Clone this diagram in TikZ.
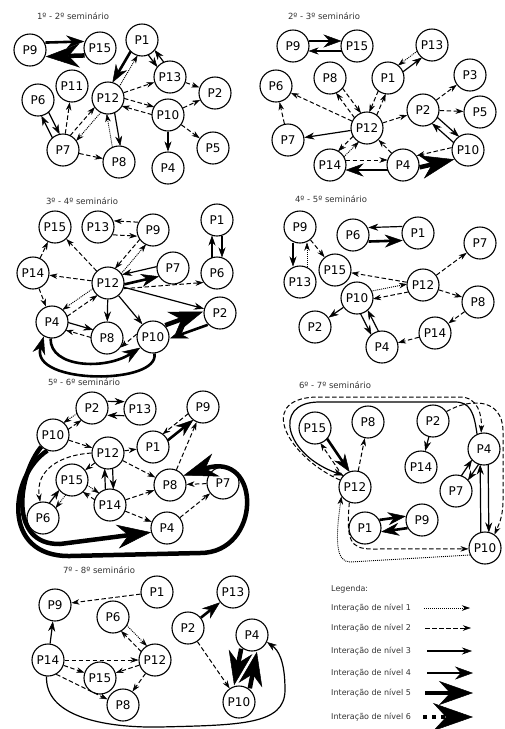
\documentclass[tikz,border=0pt]{standalone}
\usepackage{fontspec}
\setmainfont{DejaVu Sans}
\usetikzlibrary{arrows.meta,calc}

\begin{document}
\begin{tikzpicture}[x=1pt, y=-1pt,
    pn/.style={circle, draw, line width=1.1pt, minimum size=32pt, inner sep=0pt, font=\fontsize{12}{14}\selectfont},
    tit/.style={font=\fontsize{8.5}{10}\selectfont, text=black!80},
    leg/.style={anchor=west, inner sep=0pt, font=\fontsize{8}{10}\selectfont, text=black!80},
    n1/.style={line width=0.9pt, dash pattern=on 1pt off 1pt, -{Stealth[length=8pt,width=5.5pt,line width=0.5pt]}},
    n2/.style={line width=1pt, dash pattern=on 4.5pt off 2.5pt, -{Stealth[length=8pt,width=5.5pt,line width=0.5pt]}},
    n3/.style={line width=1.2pt, -{Stealth[length=10pt,width=7pt,line width=0.5pt]}},
    n4/.style={line width=2.6pt, -{Stealth[length=18pt,width=13pt,line width=0.5pt]}},
    n5/.style={line width=4.5pt, -{Stealth[length=34pt,width=24pt,line width=0.5pt]}},
    n6/.style={line width=4.5pt, dash pattern=on 4pt off 5pt, -{Stealth[length=40pt,width=28pt,line width=0.5pt]}},
    twin/.style={to path={($(\tikztostart)!#1!90:(\tikztotarget)$) -- ($(\tikztotarget)!#1!-90:(\tikztostart)$)}, shorten <=15.5pt, shorten >=15.5pt}]
    \useasboundingbox (0,0) rectangle (505,729);

    % 1 - 2
    \node[tit] (t1) at (73,16) {1º - 2º seminário};
    \node[pn] (a9) at (30,50) {P9};
    \node[pn] (a15) at (100,48) {P15};
    \node[pn] (a1) at (142,40) {P1};
    \node[pn] (a13) at (170,77) {P13};
    \node[pn] (a2) at (215,93) {P2};
    \node[pn] (a11) at (72,86) {P11};
    \node[pn] (a6) at (38,100) {P6};
    \node[pn] (a12) at (108,98) {P12};
    \node[pn] (a10) at (168,115) {P10};
    \node[pn] (a7) at (63,150) {P7};
    \node[pn] (a8) at (119,162) {P8};
    \node[pn] (a4) at (168,168) {P4};
    \node[pn] (a5) at (213,148) {P5};
    \draw[n4, twin=7pt] (a9) to (a15);
    \draw[n5, twin=7pt] (a15) to (a9);
    \draw[n4, twin=-4pt] (a1) to (a12);
    \draw[n1, twin=-4pt] (a12) to (a1);
    \draw[n3, twin=-4pt] (a1) to (a13);
    \draw[n3, twin=-4pt] (a13) to (a1);
    \draw[n2, twin=4pt] (a12) to (a10);
    \draw[n2, twin=4pt] (a10) to (a12);
    \draw[n3, twin=4pt] (a12) to (a8);
    \draw[n1, twin=4pt] (a8) to (a12);
    \draw[n1, twin=4pt] (a12) to (a7);
    \draw[n2, twin=4pt] (a7) to (a12);
    \draw[n3, twin=4pt] (a7) to (a6);
    \draw[n3, twin=4pt] (a6) to (a7);
    \draw[n2] (a13) -- (a2);
    \draw[n2] (a12) -- (a13);
    \draw[n2] (a10) -- (a2);
    \draw[n2] (a10) -- (a5);
    \draw[n3] (a10) -- (a4);
    \draw[n2] (a7) -- (a11);
    \draw[n2] (a7) -- (a8);

    % 2 - 3
    \node[tit] (t2) at (324,16) {2º - 3º seminário};
    \node[pn] (b9) at (293,46) {P9};
    \node[pn] (b15) at (357,46) {P15};
    \node[pn] (b13) at (432,45) {P13};
    \node[pn] (b1) at (388,78) {P1};
    \node[pn] (b8) at (330,78) {P8};
    \node[pn] (b6) at (276,86) {P6};
    \node[pn] (b3) at (470,75) {P3};
    \node[pn] (b2) at (423,110) {P2};
    \node[pn] (b5) at (480,112) {P5};
    \node[pn] (b12) at (367,128) {P12};
    \node[pn] (b7) at (288,140) {P7};
    \node[pn] (b10) at (468,150) {P10};
    \node[pn] (b14) at (330,165) {P14};
    \node[pn] (b4) at (403,165) {P4};
    \draw[n4, twin=5pt] (b9) to (b15);
    \draw[n3, twin=5pt] (b15) to (b9);
    \draw[n3, twin=-4pt] (b1) to (b13);
    \draw[n1, twin=-4pt] (b13) to (b1);
    \draw[n2, twin=-4pt] (b12) to (b1);
    \draw[n2, twin=-4pt] (b1) to (b12);
    \draw[n2, twin=4pt] (b8) to (b12);
    \draw[n2, twin=4pt] (b12) to (b8);
    \draw[n3, twin=4pt] (b2) to (b10);
    \draw[n3, twin=4pt] (b10) to (b2);
    \draw[n2, twin=-4pt] (b12) to (b14);
    \draw[n1, twin=-4pt] (b14) to (b12);
    \draw[n2, twin=5pt] (b14) to (b4);
    \draw[n4, twin=5pt] (b4) to (b14);
    \draw[n5, twin=-6pt] (b4) to (b10);
    \draw[n2, twin=-6pt] (b10) to (b4);
    \draw[n2] (b12) -- (b6);
    \draw[n2] (b7) -- (b6);
    \draw[n3] (b12) -- (b7);
    \draw[n2] (b12) -- (b2);
    \draw[n2] (b2) -- (b3);
    \draw[n2] (b2) -- (b5);
    \draw[n2] (b4) -- (b12);

    % 3 - 4
    \node[tit] (t3) at (82,201) {3º - 4º seminário};
    \node[pn] (c15) at (55,227) {P15};
    \node[pn] (c13) at (98,227) {P13};
    \node[pn] (c9) at (153,230) {P9};
    \node[pn] (c1) at (217,220) {P1};
    \node[pn] (c14) at (33,273) {P14};
    \node[pn] (c12) at (108,283) {P12};
    \node[pn] (c7) at (173,268) {P7};
    \node[pn] (c6) at (217,273) {P6};
    \node[pn] (c2) at (220,313) {P2};
    \node[pn] (c4) at (52,322) {P4};
    \node[pn] (c8) at (107,338) {P8};
    \node[pn] (c10) at (153,337) {P10};
    \draw[n2, twin=-7pt] (c9) to (c13);
    \draw[n2, twin=-7pt] (c13) to (c9);
    \draw[n2, twin=-4pt] (c9) to (c12);
    \draw[n1, twin=-4pt] (c12) to (c9);
    \draw[n3, twin=-5pt] (c7) to (c12);
    \draw[n4, twin=-5pt] (c12) to (c7);
    \draw[n3, twin=5pt] (c1) to (c6);
    \draw[n3, twin=5pt] (c6) to (c1);
    \draw[n1, twin=-4pt] (c12) to (c4);
    \draw[n2, twin=-4pt] (c4) to (c12);
    \draw[n3, twin=4pt] (c4) to (c8);
    \draw[n2, twin=4pt] (c8) to (c4);
    \draw[n5, twin=7pt] (c10) to (c2);
    \draw[n4, twin=7pt] (c2) to (c10);
    \draw[n2] (c12) -- (c15);
    \draw[n2] (c14) -- (c15);
    \draw[n2] (c12) -- (c14);
    \draw[n2] (c14) -- (c4);
    \draw[n2] (c12.-20) -- (c6.215);
    \draw[n3] (c12) -- (c2);
    \draw[n3] (c12) -- (c8);
    \draw[n3] (c12) -- (c10);
    \draw[n2] (c10.170) -- (c8.-35);
    \draw[n4] (c4.265) .. controls (50,368) and (105,370) .. (c10.220);
    \draw[n4] (c10.275) .. controls (160,385) and (30,385) .. (c4.240);

    % 4 - 5
    \node[tit] (t4) at (331,199) {4º - 5º seminário};
    \node[pn] (d9) at (300,227) {P9};
    \node[pn] (d6) at (353,235) {P6};
    \node[pn] (d1) at (418,233) {P1};
    \node[pn] (d7) at (480,243) {P7};
    \node[pn] (d13) at (300,282) {P13};
    \node[pn] (d15) at (335,270) {P15};
    \node[pn] (d12) at (423,285) {P12};
    \node[pn] (d10) at (357,298) {P10};
    \node[pn] (d8) at (478,302) {P8};
    \node[pn] (d2) at (315,327) {P2};
    \node[pn] (d14) at (435,333) {P14};
    \node[pn] (d4) at (382,347) {P4};
    \draw[n3, twin=-7pt] (d1) to (d6);
    \draw[n4, twin=-7pt] (d6) to (d1);
    \draw[n3, twin=-7pt] (d9) to (d13);
    \draw[n1, twin=-7pt] (d13) to (d9);
    \draw[n1, twin=4pt] (d10) to (d12);
    \draw[n2, twin=4pt] (d12) to (d10);
    \draw[n3, twin=-4pt] (d10) to (d4);
    \draw[n3, twin=-4pt] (d4) to (d10);
    \draw[n2] (d9) -- (d15);
    \draw[n2] (d12) -- (d15);
    \draw[n2] (d12) -- (d7);
    \draw[n2] (d12) -- (d8);
    \draw[n2] (d8) -- (d14);
    \draw[n2] (d14) -- (d4);
    \draw[n3] (d10) -- (d2);

    % 5 - 6
    \node[tit] (t5) at (84,382) {5º - 6º seminário};
    \node[pn] (e2) at (92,408) {P2};
    \node[pn] (e13) at (140,409) {P13};
    \node[pn] (e9) at (203,407) {P9};
    \node[pn] (e10) at (53,435) {P10};
    \node[pn] (e12) at (108,453) {P12};
    \node[pn] (e1) at (153,447) {P1};
    \node[pn] (e15) at (72,480) {P15};
    \node[pn] (e8) at (170,485) {P8};
    \node[pn] (e7) at (223,483) {P7};
    \node[pn] (e14) at (110,505) {P14};
    \node[pn] (e6) at (43,518) {P6};
    \node[pn] (e4) at (167,528) {P4};
    \draw[n3, twin=7pt] (e2) to (e13);
    \draw[n3, twin=7pt] (e13) to (e2);
    \draw[n1, twin=-4pt] (e2) to (e10);
    \draw[n2, twin=-4pt] (e10) to (e2);
    \draw[n2, twin=-4pt] (e9) to (e1);
    \draw[n4, twin=-4pt] (e1) to (e9);
    \draw[n3, twin=4pt] (e12) to (e14);
    \draw[n3, twin=4pt] (e14) to (e12);
    \draw[n1, twin=4pt] (e15) to (e14);
    \draw[n2, twin=4pt] (e14) to (e15);
    \draw[n3, twin=4pt] (e6) to (e15);
    \draw[n1, twin=4pt] (e15) to (e6);
    \draw[n2] (e10) -- (e12);
    \draw[n2] (e12) -- (e1);
    \draw[n2] (e8) -- (e9);
    \draw[n2] (e12) -- (e8);
    \draw[n2] (e14) -- (e8);
    \draw[n2] (e14) -- (e4);
    \draw[n2] (e7) -- (e8);
    \draw[n2] (e4) -- (e7);
    \draw[n2] (e12) -- (e15);
    \draw[n2] (e12.west) .. controls (60,455) and (35,470) .. (e6.100);
    \draw[n5] (e10.225) .. controls (18,475) and (8,545) .. (60,544) -- (e4.195);
    \draw[n5] (e10.250) .. controls (10,475) and (0,557) .. (70,556) -- (200,553) .. controls (262,553) and (262,450) .. (e8.35);

    % 6 - 7
    \node[tit] (t6) at (335,385) {6º - 7º seminário};
    \node[pn] (f15) at (315,428) {P15};
    \node[pn] (f8) at (368,422) {P8};
    \node[pn] (f2) at (433,421) {P2};
    \node[pn] (f4) at (484,449) {P4};
    \node[pn] (f14) at (421,467) {P14};
    \node[pn] (f12) at (355,487) {P12};
    \node[pn] (f7) at (456,491) {P7};
    \node[pn] (f9) at (422,520) {P9};
    \node[pn] (f1) at (365,528) {P1};
    \node[pn] (f10) at (485,548) {P10};
    \draw[n4, twin=4pt] (f15) to (f12);
    \draw[n2, twin=4pt] (f12) to (f15);
    \draw[n3, twin=4pt] (f7) to (f4);
    \draw[n3, twin=4pt] (f4) to (f7);
    \draw[n3, twin=4pt] (f4) to (f10);
    \draw[n3, twin=4pt] (f10) to (f4);
    \draw[n4, twin=6pt] (f1) to (f9);
    \draw[n4, twin=6pt] (f9) to (f1);
    \draw[n2] (f12) -- (f8);
    \draw[n3] (f2) -- (f14);
    \draw[n2] (f12.155) .. controls (290,458) and (255,400) .. (315,397) -- (460,397) .. controls (478,397) and (482,415) .. (f4.100);
    \draw[n3] (f4.115) .. controls (474,412) and (470,402) .. (455,402) -- (318,402) .. controls (272,403) and (285,455) .. (f12.135);
    \draw[n2] (f2.35) .. controls (470,398) and (502,398) .. (503,430) -- (503,500) .. controls (503,515) and (500,522) .. (f10.55);
    \draw[n2] (f12.250) .. controls (346,540) and (350,549) .. (372,549) -- (f10.183);
    \draw[n1] (f10.205) -- (350,562) .. controls (336,562) and (335,540) .. (f12.215);

    % 7 - 8
    \node[tit] (t7) at (99,570) {7º - 8º seminário};
    \node[pn] (g1) at (157,592) {P1};
    \node[pn] (g9) at (55,605) {P9};
    \node[pn] (g6) at (113,617) {P6};
    \node[pn] (g13) at (233,592) {P13};
    \node[pn] (g2) at (188,628) {P2};
    \node[pn] (g4) at (252,635) {P4};
    \node[pn] (g14) at (48,660) {P14};
    \node[pn] (g12) at (155,660) {P12};
    \node[pn] (g15) at (100,678) {P15};
    \node[pn] (g8) at (123,705) {P8};
    \node[pn] (g10) at (239,702) {P10};
    \draw[n1, twin=4pt] (g6) to (g12);
    \draw[n2, twin=4pt] (g12) to (g6);
    \draw[n5, twin=-8pt] (g4) to (g10);
    \draw[n5, twin=-8pt] (g10) to (g4);
    \draw[n2] (g1) -- (g9);
    \draw[n3] (g14) -- (g9);
    \draw[n2] (g14) -- (g12);
    \draw[n2] (g14) -- (g15);
    \draw[n2] (g12) -- (g15);
    \draw[n2] (g12.235) -- (g8.55);
    \draw[n2] (g14.-60) -- (g8.160);
    \draw[n4] (g2) -- (g13);
    \draw[n2] (g2) -- (g10);
    \draw[n3] (g14.265) .. controls (45,715) and (100,728) .. (160,727) .. controls (240,725) and (285,725) .. (285,690) .. controls (285,660) and (278,650) .. (g4.-25);

    % legenda
    \node[leg] (lg) at (331,589) {Legenda:};
    \node[leg] (l1) at (331,608) {Interação de nível 1};
    \node[leg] (l2) at (331,628) {Interação de nível 2};
    \node[leg] (l3) at (331,651) {Interação de nível 3};
    \node[leg] (l4) at (331,673) {Interação de nível 4};
    \node[leg] (l5) at (331,693) {Interação de nível 5};
    \node[leg] (l6) at (331,717) {Interação de nível 6};
    \coordinate (ls1) at (424,608); \coordinate (le1) at (470,608);
    \coordinate (ls2) at (425,628); \coordinate (le2) at (471,628);
    \coordinate (ls3) at (427,651); \coordinate (le3) at (472,651);
    \coordinate (ls4) at (427,673); \coordinate (le4) at (473,673);
    \coordinate (ls5) at (425,693); \coordinate (le5) at (473,693);
    \coordinate (ls6) at (423,717); \coordinate (le6) at (473,717);
    \draw[n1] (ls1) -- (le1);
    \draw[n2] (ls2) -- (le2);
    \draw[n3] (ls3) -- (le3);
    \draw[n4] (ls4) -- (le4);
    \draw[n5] (ls5) -- (le5);
    \draw[n6] (ls6) -- (le6);
\end{tikzpicture}
\end{document}
